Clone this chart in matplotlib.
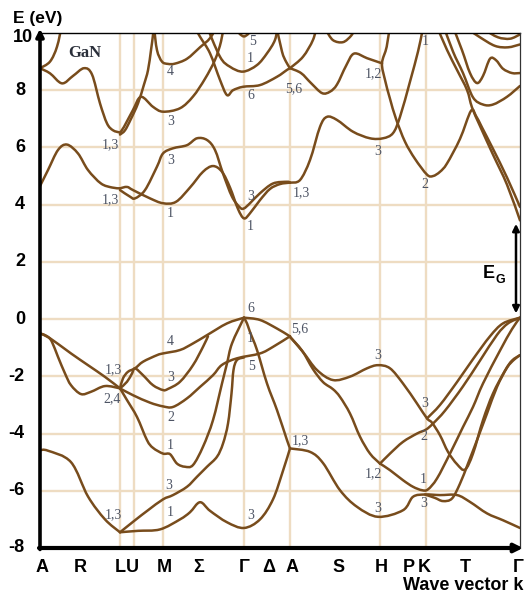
import numpy as np
import matplotlib
matplotlib.use("Agg")
import matplotlib.pyplot as plt
from matplotlib.path import Path
from matplotlib.patches import PathPatch

plt.rcParams['axes.unicode_minus'] = False

# ---------------- data (k in arbitrary path units, E in eV) ----------------
sym_pts_k = [0, 80, 94, 123, 204, 250, 340, 386, 480]        # A L U M G A H K G (grid)
tick_names = ["A", "R", "L", "U", "M", "Σ", "Γ", "Δ", "A", "S", "H", "P", "K", "T", "Γ"]
tick_k = [2.5, 40, 80, 92.5, 124.5, 158.7, 204, 228.5, 252, 299, 341, 369, 384.7, 425, 478]
energy_ticks = [10, 8, 6, 4, 2, 0, -2, -4, -6, -8]

# valence bands
vb_AL_upper = [(0, -0.5), (8, -0.62), (31, -1.2), (48, -1.61), (65, -2.02), (80, -2.42)]
vb_AL_lower = [(0, -0.5), (8, -0.63), (12, -0.8), (18, -1.32), (25, -1.9), (31, -2.31),
               (41, -2.62), (51, -2.54), (65, -2.34), (80, -2.42)]
vb_LUM4 = [(80, -2.42), (83, -2.07), (88, -1.84), (95, -1.72), (103, -1.49), (117, -1.26),
           (123, -1.2), (140, -1.08), (153, -0.85), (167, -0.56), (187, -0.15), (204, 0.05)]
vb_LUM3 = [(80, -2.42), (87, -2.19), (92, -1.9), (95, -1.72), (103, -1.96), (113, -2.31),
           (123, -2.48), (128, -2.44), (140, -2.19), (153, -1.61), (163, -0.97), (168, -0.6)]
vb_LM2A = [(80, -2.42), (93, -2.66), (110, -2.92), (123, -3.05), (133, -3.07), (147, -2.77),
           (160, -2.37), (173, -1.96), (182, -1.6), (197, -1.37), (220, -1.2), (233, -0.97),
           (250, -0.6)]
vb_LM1G = [(80, -2.42), (87, -2.83), (97, -3.42), (107, -4.23), (113, -4.5), (123, -4.7),
           (130, -4.72), (137, -5.05), (145, -5.16), (153, -5.1), (163, -4.46), (173, -3.53),
           (182, -2.25), (187, -1.55), (192, -0.85), (204, 0.05)]
vb_LM3G5 = [(80, -7.45), (95, -7.03), (108, -6.68), (123, -6.3), (133, -6.15), (147, -5.86),
            (157, -5.51), (167, -5.16), (177, -4.81), (183, -4.35), (188, -3.65), (191.5, -2.6),
            (193.5, -1.78), (197, -1.43), (204, -1.34)]
vb_AL_bottom = [(0, -4.58), (8, -4.6), (31, -5.0), (48, -6.2), (65, -7.0), (80, -7.45)]
vb_LGA_bottom = [(80, -7.45), (98, -7.4), (120, -7.35), (140, -7.0), (150, -6.75), (160, -6.4),
                 (170, -6.7), (187, -7.1), (204, -7.3), (220, -7.0), (233, -6.3), (243, -5.3),
                 (250, -4.52)]
vb_AHKG_bottom = [(250, -4.52), (270, -4.64), (283, -5.03), (300, -5.98), (317, -6.56),
                  (338, -6.91), (363, -6.68), (373, -6.21), (385, -6.13), (400, -6.15),
                  (417, -6.15), (430, -6.39), (447, -6.79), (463, -7.03), (480, -7.3)]
vb_GA_down = [(204, 0.05), (207, -0.15), (210, -0.45), (217, -1.08), (227, -2.25), (237, -3.18),
              (247, -4.23), (250, -4.52)]
vb_GA_top = [(204, 0.05), (220, -0.03), (237, -0.33), (248, -0.56), (250, -0.6)]
vb_AH_a = [(250, -0.62), (263, -1.15), (277, -1.78), (293, -2.13), (310, -2.01), (327, -1.72),
           (338, -1.61), (350, -1.72), (363, -2.25), (377, -2.95), (387, -3.47), (392, -3.62),
           (400, -4.06), (408, -4.64), (417, -5.07), (425, -5.26), (433, -4.7), (443, -3.53),
           (453, -2.6), (465, -1.8), (472, -1.45), (480, -1.26)]
vb_AH_b = [(250, -0.62), (262, -1.1), (273, -1.75), (283, -2.2), (293, -2.45), (300, -2.72),
           (310, -3.3), (320, -4.11), (330, -4.7), (340, -5.05)]
vb_HK2G = [(340, -5.05), (350, -4.7), (363, -4.29), (377, -4.0), (386, -3.86), (393, -3.65),
           (405, -3.2), (423, -2.35), (440, -1.45), (457, -0.55), (468, -0.15), (480, 0.05)]
vb_K3G = [(387, -3.47), (400, -3.0), (417, -2.2), (433, -1.4), (450, -0.6), (463, -0.15),
          (480, 0.05)]
vb_HK1G = [(340, -5.05), (350, -5.28), (363, -5.63), (373, -5.86), (382, -5.98), (388, -5.95),
           (397, -5.57), (410, -4.7), (423, -3.77), (433, -3.07), (443, -2.25), (460, -1.1),
           (472, -0.35), (480, 0.05)]
vb_KdipG5 = [(385, -6.13), (395, -6.25), (403, -6.36), (412, -6.27), (420, -5.75), (428, -5.05),
             (437, -4.23), (447, -3.3), (457, -2.37), (467, -1.7), (474, -1.42), (480, -1.26)]

# conduction bands
cb_AL_low = [(0, 4.65), (8, 5.21), (18, 5.91), (27, 6.1), (38, 5.79), (48, 5.21), (61, 4.74),
             (72, 4.6), (80, 4.57)]
cb_LM1GA = [(80, 4.57), (87, 4.62), (93, 4.51), (110, 4.22), (123, 4.05), (136, 4.1), (150, 4.6),
            (163, 5.15), (173, 5.35), (182, 5.15), (190, 4.6), (198, 3.85), (204, 3.52),
            (210, 3.7), (220, 4.16), (230, 4.55), (240, 4.72), (250, 4.77)]
cb_LM3GA = [(80, 4.51), (90, 4.28), (95, 4.22), (105, 4.51), (117, 5.33), (123, 5.79),
            (133, 5.97), (147, 6.08), (157, 6.32), (167, 6.26), (175, 5.91), (183, 5.09),
            (192, 4.28), (200, 3.9), (204, 3.87), (210, 4.05), (220, 4.4), (233, 4.74),
            (247, 4.8), (250, 4.77)]
cb_AHK = [(250, 4.77), (260, 4.86), (270, 5.56), (280, 6.72), (287, 7.07), (297, 6.96),
          (313, 6.55), (330, 6.32), (343, 6.32), (353, 6.5), (360, 7.07), (370, 8.3),
          (378, 9.35), (382, 10.0), (384, 10.3)]
cb_HK2G = [(350, 10.3), (346.7, 9.52), (342, 8.94), (345, 8.36), (350, 7.7), (356, 7.0),
           (365, 6.2), (375, 5.6), (387, 5.05), (393, 5.0), (400, 5.15), (407, 5.44),
           (420, 6.3), (431, 7.28), (436, 7.1), (442, 6.7), (453, 5.95), (467, 4.95), (480, 3.92)]
cb_KG_diag = [(396, 10.3), (407, 9.41), (417, 8.71), (427, 8.01), (432, 7.4), (440, 6.75),
              (453, 5.75), (467, 4.7), (480, 3.45)]
cb_A_up1 = [(0, 8.77), (10, 9.0), (17, 9.52), (22, 10.3)]
cb_AL_up = [(0, 8.77), (10, 8.59), (22, 8.24), (33, 8.5), (44, 8.77), (52, 8.55), (60, 7.54),
            (67, 6.84), (73, 6.6), (80, 6.52)]
cb_LUM3_up = [(80, 6.52), (84, 6.72), (93, 7.31), (101, 7.77), (113, 7.42), (123, 7.25),
              (140, 7.37), (153, 7.78), (165, 8.4), (175, 9.06), (181, 9.7), (184, 10.3)]
cb_L_up = [(80, 6.45), (85, 6.6), (91, 7.0), (98, 7.54), (104, 8.2), (108, 8.7), (111, 9.4),
           (113, 9.93), (114, 10.3)]
cb_M4 = [(114, 10.2), (117, 9.4), (122, 9.0), (128, 8.92), (135, 8.93), (147, 9.1), (160, 9.5),
         (170, 9.82), (178, 10.3)]
cb_G6 = [(153, 10.3), (160, 9.87), (170, 9.29), (180, 8.36), (187, 7.83), (193, 8.0),
         (203, 8.12), (220, 8.18), (237, 8.47), (247, 8.71), (250, 8.77)]
cb_G1 = [(166, 10.3), (180, 9.17), (190, 8.82), (203, 8.65), (217, 8.88), (227, 9.29),
         (235, 9.76), (238, 10.3)]
cb_G5 = [(196, 10.1), (204, 9.88), (212, 10.1)]
cb_A_upleft = [(236, 10.3), (242, 9.35), (246, 9.0), (250, 8.77)]
cb_A_up2 = [(250, 8.77), (263, 9.17), (273, 9.76), (277, 10.3)]
cb_AH_upper = [(250, 8.77), (261, 8.6), (271, 8.25), (282, 7.9), (290, 7.95), (297, 8.2),
               (306, 8.85), (314, 9.28), (327, 9.12), (337, 9.0), (342, 8.94)]
cb_AH_arc = [(286, 10.1), (293, 9.75), (303, 9.68), (311, 9.9), (314, 10.1)]
cb_R2 = [(403, 10.3), (413, 9.35), (423, 8.6), (433, 7.75), (443, 7.5), (453, 7.5), (467, 7.77),
         (480, 8.15)]
cb_R3 = [(412, 10.3), (422, 9.4), (430, 8.6), (437, 8.25), (443, 8.5), (450, 9.1), (456, 9.05),
         (463, 8.75), (472, 8.6), (480, 8.6)]
cb_R4 = [(425, 10.2), (440, 9.85), (455, 9.55), (468, 9.5), (480, 9.6)]
cb_R5 = [(445, 10.1), (458, 9.85), (470, 9.8), (480, 9.95)]

bands = [vb_AL_upper, vb_AL_lower, vb_LUM4, vb_LUM3, vb_LM2A, vb_LM1G, vb_LM3G5, vb_AL_bottom,
         vb_LGA_bottom, vb_AHKG_bottom, vb_GA_down, vb_GA_top, vb_AH_a, vb_AH_b, vb_HK2G,
         vb_K3G, vb_HK1G, vb_KdipG5,
         cb_AL_low, cb_LM1GA, cb_LM3GA, cb_AHK, cb_HK2G, cb_KG_diag, cb_A_up1, cb_AL_up,
         cb_LUM3_up, cb_L_up, cb_M4, cb_G6, cb_G1, cb_G5, cb_A_upleft, cb_A_up2, cb_AH_upper,
         cb_AH_arc, cb_R2, cb_R3, cb_R4, cb_R5]

# symmetry labels of states (text, k, E)
state_labels = [
    ("4", 130.7, 8.65), ("3", 130.7, 6.90), ("1,3", 70, 6.08), ("3", 130.7, 5.56),
    ("1,3", 70, 4.16), ("1", 130.7, 3.70), ("5", 212.3, 9.70), ("1", 210.7, 9.12),
    ("6", 210.7, 7.83), ("3", 210.7, 4.28), ("1", 210.7, 3.23), ("5,6", 253.3, 8.07),
    ("1,3", 261.7, 4.42), ("1,2", 333.3, 8.59), ("3", 337.3, 5.85), ("1", 385, 9.70),
    ("2", 385, 4.69),
    ("6", 210.7, 0.37), ("1", 210.7, -0.67), ("5", 211.7, -1.67), ("3", 210.7, -6.85),
    ("4", 130.7, -0.79), ("3", 130.7, -2.04), ("2", 130.7, -3.44), ("1", 130.7, -4.41),
    ("3", 128.3, -5.80), ("1", 130.7, -6.77), ("1,3", 73.3, -1.78), ("2,4", 71.7, -2.77),
    ("1,3", 73.3, -6.85), ("5,6", 260, -0.33), ("1,3", 260.7, -4.26), ("3", 337.3, -1.26),
    ("1,2", 333.3, -5.40), ("3", 337.3, -6.62), ("3", 385, -2.95), ("2", 384, -4.12),
    ("1", 383.3, -5.60), ("3", 384, -6.44),
]

# ---------------- figure ----------------
W, H = 527, 597
fig = plt.figure(figsize=(W / 100, H / 100), dpi=100)
x0, x1, ytop, ybot = 40, 520, 33, 548
ax = fig.add_axes([x0 / W, 1 - ybot / H, (x1 - x0) / W, (ybot - ytop) / H])
ax.set_xlim(0, 480)
ax.set_ylim(-8, 10)
ax.set_xticks([])
ax.set_yticks([])
for s in ax.spines.values():
    s.set_visible(False)

grid_c = "#eedcc2"
for e in [8, 6, 4, 2, 0, -2, -4, -6]:
    ax.axhline(e, color=grid_c, lw=1.7, zorder=1)
for k in sym_pts_k[1:-1]:
    ax.axvline(k, color=grid_c, lw=1.7, zorder=1)

band_c = "#784c1c"


def draw_band(pts):
    P = np.asarray(pts, float)
    n = len(P)
    verts = [P[0]]
    codes = [Path.MOVETO]
    for i in range(n - 1):
        p0 = P[max(i - 1, 0)]
        p1 = P[i]
        p2 = P[i + 1]
        p3 = P[min(i + 2, n - 1)]
        verts += [p1 + (p2 - p0) / 6.0, p2 - (p3 - p1) / 6.0, p2]
        codes += [Path.CURVE4] * 3
    ax.add_patch(PathPatch(Path(verts, codes), fill=False, edgecolor=band_c, lw=1.8,
                           capstyle="round", joinstyle="round", zorder=3))


for b in bands:
    draw_band(b)

lab_c = "#4d5464"
for t, k, e in state_labels:
    ax.text(k, e, t, fontsize=10, family="Liberation Serif", color=lab_c,
            ha="center", va="center", zorder=4)

ax.text(45, 9.3, "GaN", fontsize=12, family="Liberation Serif", fontweight="bold",
        color="#2a2f3a", ha="center", va="center")

# borders and axis arrows
ax.plot([0, 480], [10, 10], color="black", lw=1.0, clip_on=False, zorder=5)
ax.plot([480, 480], [-8, 10], color="#333333", lw=0.9, clip_on=False, zorder=5)
ax.annotate("", xy=(0, 10.15), xytext=(0, -8.05),
            arrowprops=dict(arrowstyle="-|>", lw=2.6, color="black", mutation_scale=11,
                            shrinkA=0, shrinkB=0), annotation_clip=False, zorder=6)
ax.annotate("", xy=(483, -8), xytext=(-1, -8),
            arrowprops=dict(arrowstyle="-|>", lw=3.0, color="black", mutation_scale=12,
                            shrinkA=0, shrinkB=0), annotation_clip=False, zorder=6)
# band-gap arrow
ax.annotate("", xy=(476, 0.2), xytext=(476, 3.33),
            arrowprops=dict(arrowstyle="<|-|>", lw=1.8, color="black", mutation_scale=10,
                            shrinkA=0, shrinkB=0), annotation_clip=False, zorder=6)


def fx(px):
    return px / W


def fy(py):
    return 1 - py / H


fig.text(fx(489), fy(274), "E", fontsize=13, fontweight="bold", family="Liberation Sans",
         ha="center", va="center")
fig.text(fx(500.5), fy(280), "G", fontsize=9, fontweight="bold", family="Liberation Sans",
         ha="center", va="center")

for e in energy_ticks:
    py = ytop + (10 - e) * (ybot - ytop) / 18.0
    if e == 10:
        py += 5
    px = 13 if e == 10 else (15 if e >= 0 else 8)
    fig.text(fx(px), fy(py), str(e), fontsize=13, fontweight="bold",
             family="Liberation Sans", ha="left", va="center")

for name, k in zip(tick_names, tick_k):
    fig.text(fx(x0 + k), fy(568), name, fontsize=13, fontweight="bold",
             family="Liberation Sans", ha="center", va="center")

fig.text(fx(13), fy(18.5), "E (eV)", fontsize=12.5, fontweight="bold", family="Liberation Sans",
         ha="left", va="center")
fig.text(fx(523), fy(585), "Wave vector k", fontsize=13, fontweight="bold",
         family="Liberation Sans", ha="right", va="center")

fig.savefig("out.png", dpi=100)
